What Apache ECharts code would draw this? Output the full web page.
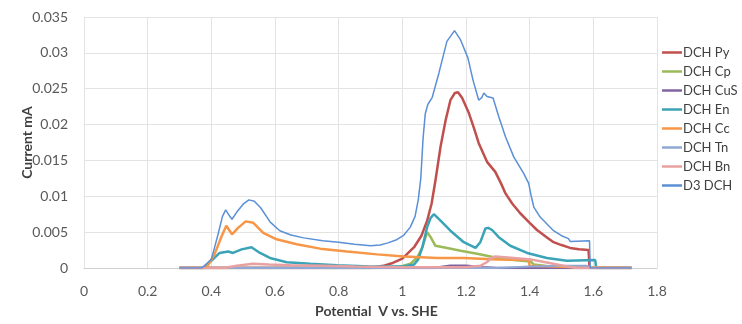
<!DOCTYPE html>
<html>
<head>
<meta charset="utf-8">
<script src="https://cdn.jsdelivr.net/npm/echarts@6/dist/echarts.min.js"></script>
<style>
  html, body { margin: 0; padding: 0; background: #fff; }
  #main { width: 742px; height: 324px; }
</style>
</head>
<body>
<div id="main"></div>
<script>
// series names (legend order)
var names = ['DCH Py', 'DCH Cp', 'DCH CuS', 'DCH En', 'DCH Cc', 'DCH Tn', 'DCH Bn', 'D3 DCH'];

// [potential V, current mA]
var py = [[0.30,0],[0.90,0],[0.94,0.0003],[0.97,0.0007],[1.0,0.0013],[1.037,0.0029],[1.06,0.0045],[1.078,0.0066],[1.092,0.009],[1.104,0.0122],[1.12,0.0169],[1.136,0.0206],[1.151,0.0234],[1.165,0.0244],[1.175,0.0245],[1.188,0.0237],[1.209,0.0216],[1.225,0.0195],[1.24,0.0174],[1.266,0.0148],[1.292,0.0134],[1.31,0.0118],[1.324,0.0104],[1.345,0.009],[1.371,0.0076],[1.40,0.0063],[1.423,0.0053],[1.45,0.0044],[1.475,0.0036],[1.50,0.0032],[1.527,0.0028],[1.555,0.0026],[1.585,0.0025],[1.588,0],[1.72,0]];
var cp = [[0.30,0],[0.93,0],[0.995,0.0002],[1.026,0.0006],[1.047,0.0015],[1.063,0.0029],[1.078,0.005],[1.089,0.0043],[1.104,0.0031],[1.141,0.0028],[1.183,0.0024],[1.235,0.002],[1.288,0.0015],[1.35,0.0011],[1.403,0.0009],[1.413,0.0005],[1.465,0.0002],[1.52,0],[1.72,0]];
var cus = [[0.30,0],[1.1,0],[1.15,0.0003],[1.2,0.0003],[1.25,0.0001],[1.3,0],[1.72,0]];
var en = [[0.30,0],[0.374,0],[0.39,0.0006],[0.405,0.0012],[0.426,0.0021],[0.453,0.0023],[0.468,0.0021],[0.495,0.0026],[0.526,0.0029],[0.553,0.0021],[0.584,0.0014],[0.637,0.0008],[0.71,0.0006],[0.795,0.0004],[0.9,0.0002],[1.005,0.0002],[1.037,0.0005],[1.05,0.0012],[1.063,0.0029],[1.078,0.0057],[1.089,0.007],[1.099,0.0075],[1.12,0.0066],[1.151,0.0052],[1.193,0.0036],[1.23,0.0028],[1.245,0.0036],[1.261,0.0055],[1.27,0.0056],[1.282,0.0053],[1.303,0.0043],[1.339,0.0031],[1.392,0.0021],[1.454,0.0014],[1.517,0.001],[1.606,0.0011],[1.609,0],[1.72,0]];
var cc = [[0.30,0],[0.384,0],[0.41,0.0019],[0.432,0.0044],[0.447,0.0059],[0.465,0.0047],[0.484,0.0056],[0.508,0.0065],[0.532,0.0063],[0.563,0.0049],[0.605,0.004],[0.668,0.0033],[0.742,0.0027],[0.826,0.0023],[0.921,0.0019],[1.005,0.0016],[1.11,0.0014],[1.193,0.0014],[1.30,0.0012],[1.397,0.0011],[1.40,0.0003],[1.55,0.0001],[1.72,0]];
var tn = [[0.30,0],[1.3,0],[1.4,0.0002],[1.5,0.0003],[1.58,0.0003],[1.6,0],[1.72,0]];
var bn = [[0.30,0],[0.44,0],[0.48,0.0003],[0.53,0.0006],[0.58,0.0005],[0.65,0.0004],[0.75,0.0003],[0.85,0.0002],[1.0,0.0001],[1.2,0.0001],[1.245,0.0003],[1.265,0.0008],[1.28,0.0014],[1.292,0.0016],[1.35,0.0014],[1.403,0.0012],[1.45,0.0008],[1.517,0.0002],[1.55,0],[1.72,0]];
var d3 = [[0.30,0],[0.37,0],[0.40,0.0012],[0.42,0.0045],[0.435,0.0072],[0.445,0.0081],[0.455,0.0074],[0.465,0.0068],[0.48,0.0078],[0.50,0.0089],[0.518,0.0095],[0.535,0.0093],[0.555,0.0084],[0.585,0.0064],[0.615,0.0052],[0.65,0.0046],[0.69,0.0042],[0.75,0.0038],[0.80,0.0036],[0.85,0.0033],[0.90,0.0031],[0.93,0.0032],[0.955,0.0035],[0.98,0.0039],[1.005,0.0046],[1.025,0.0057],[1.04,0.0072],[1.05,0.0095],[1.058,0.0125],[1.065,0.018],[1.072,0.0215],[1.08,0.0228],[1.094,0.0238],[1.115,0.0272],[1.14,0.0316],[1.164,0.0331],[1.183,0.0318],[1.206,0.0293],[1.222,0.0262],[1.24,0.0234],[1.25,0.0238],[1.256,0.0244],[1.266,0.0239],[1.285,0.0237],[1.303,0.0211],[1.324,0.0183],[1.35,0.0155],[1.381,0.0132],[1.397,0.0118],[1.405,0.010],[1.413,0.0085],[1.433,0.0071],[1.475,0.0052],[1.50,0.0045],[1.522,0.0041],[1.527,0.0037],[1.588,0.0038],[1.59,0],[1.72,0]];

var allData = [py, cp, cus, en, cc, tn, bn, d3];
var colors = ['#C0504D', '#9BBB59', '#8064A2', '#3AA3B8', '#F79646', '#8FA8D6', '#E8A0A0', '#5B8FD6'];
var widths = [2.5, 2.5, 2.5, 2.5, 2.5, 2, 2.5, 1.5];

var myChart = echarts.init(document.getElementById('main'));

var series = [];
for (var i = 0; i < names.length; i++) {
	series.push({
		name: names[i],
		type: 'line',
		data: allData[i],
		symbol: 'none',
		lineStyle: { color: colors[i], width: widths[i] },
		itemStyle: { color: colors[i] },
		animation: false
	});
}

var option = {
	backgroundColor: '#fff',
	textStyle: { fontFamily: 'Lato' },
	grid: { left: 84, right: 85, top: 17, bottom: 56 },
	legend: {
		orient: 'vertical',
		left: 662,
		top: 45,
		padding: 0,
		icon: 'rect',
		itemWidth: 20,
		itemHeight: 2.5,
		itemGap: 4,
		textStyle: { fontSize: 13, lineHeight: 15, color: '#404040', padding: [0, 0, 0, -4] },
		data: names
	},
	xAxis: {
		type: 'value',
		min: 0,
		max: 1.8,
		interval: 0.2,
		name: 'Potential  V vs. SHE',
		nameLocation: 'middle',
		nameGap: 36,
		nameTextStyle: { fontSize: 14, fontWeight: 'bold', color: '#404040', padding: [0, 0, 0, 12] },
		axisLine: { show: true, lineStyle: { color: '#D0D0D0' } },
		axisTick: { show: false },
		axisLabel: { fontSize: 14, color: '#595959', margin: 16 },
		splitLine: { show: true, lineStyle: { color: '#E3E3E3' } }
	},
	yAxis: {
		type: 'value',
		min: 0,
		max: 0.035,
		interval: 0.005,
		name: 'Current mA',
		nameLocation: 'middle',
		nameGap: 50,
		nameMoveOverlap: false,
		nameTextStyle: { fontSize: 14, fontWeight: 'bold', color: '#404040' },
		axisLine: { show: false },
		axisTick: { show: false },
		axisLabel: { fontSize: 14, color: '#595959', margin: 16 },
		splitLine: { show: true, lineStyle: { color: '#E3E3E3' } }
	},
	series: series
};

myChart.setOption(option);
</script>
</body>
</html>
